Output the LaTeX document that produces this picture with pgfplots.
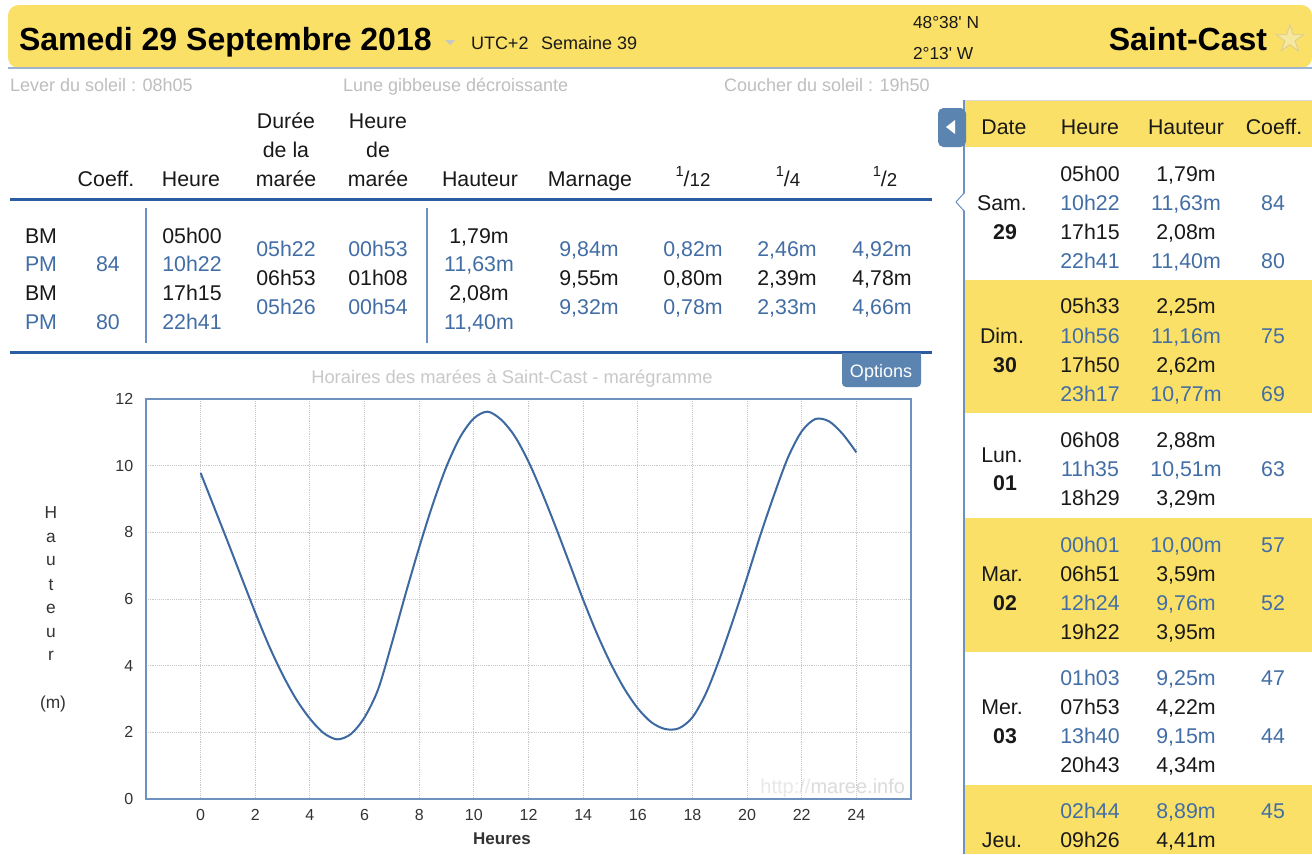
\documentclass[border=0pt]{standalone}
\usepackage{pgfplots}
\pgfplotsset{compat=1.18}
\usepackage{fontspec}
\setmainfont{Liberation Sans}
\newfontfamily\dejavu{DejaVu Sans}
\newcommand\fs[1]{\fontsize{#1}{#1}\selectfont}
\definecolor{ylw}{RGB}{250,224,102}
\definecolor{blu}{RGB}{66,110,165}
\definecolor{txt}{RGB}{25,25,25}
\definecolor{rulec}{RGB}{43,91,160}
\definecolor{vlinec}{RGB}{110,145,195}
\definecolor{lgray}{RGB}{190,190,190}
\definecolor{hline}{RGB}{160,180,205}
\definecolor{frame}{RGB}{110,145,190}
\definecolor{linec}{RGB}{61,105,160}
\definecolor{gridc}{RGB}{200,200,200}
\definecolor{tickc}{RGB}{51,51,51}
\definecolor{optc}{RGB}{91,132,177}
\definecolor{starc}{RGB}{247,232,160}
\definecolor{staro}{RGB}{222,205,135}
\begin{document}
\begin{tikzpicture}
\begin{scope}[x=0.75pt,y=-0.75pt,every node/.style={inner sep=0pt,outer sep=0pt}]
\path[use as bounding box] (0,0) rectangle (1312,854);
\fill[white] (0,0) rectangle (1312,854);
% header band
\fill[ylw,rounded corners=8] (8,5) rectangle (1312,68);
\draw[hline,line width=1.5pt] (8,68) -- (1312,68);
\node[anchor=base west,font=\fs{24}\bfseries,text=black] at (19,50) {Samedi 29 Septembre 2018};
\fill[gray!45] (445,40) -- (455,40) -- (450,45) -- cycle;
\node[anchor=base west,font=\fs{13.5},text=txt] at (471,49) {UTC+2};
\node[anchor=base west,font=\fs{13.5},text=txt] at (541,49) {Semaine 39};
\node[anchor=base west,font=\fs{13},text=txt] at (913,28) {48°38\textquotesingle\ N};
\node[anchor=base west,font=\fs{13},text=txt] at (913,59) {2°13\textquotesingle\ W};
\node[anchor=base east,font=\fs{24}\bfseries,text=black] at (1267,50) {Saint-Cast};
\node[anchor=center,font=\dejavu\fs{30},text=starc] at (1290,38) {★};
\node[anchor=center,font=\dejavu\fs{30},text=staro] at (1290,38) {☆};
% sun / moon line
\node[anchor=base west,font=\fs{13.5},text=lgray] at (10,91) {Lever du soleil : 08h05};
\node[anchor=base west,font=\fs{13.5},text=lgray] at (343,91) {Lune gibbeuse décroissante};
\node[anchor=base west,font=\fs{13.5},text=lgray] at (724,91) {Coucher du soleil : 19h50};
% main table header
\begin{scope}[every node/.append style={anchor=base,font=\fs{16},text=txt}]
\node at (106,186) {Coeff.};
\node at (191,186) {Heure};
\node at (286,128) {Durée};
\node at (286,157) {de la};
\node at (286,186) {marée};
\node at (378,128) {Heure};
\node at (378,157) {de};
\node at (378,186) {marée};
\node at (480,186) {Hauteur};
\node at (590,186) {Marnage};
\node at (693,186) {\raisebox{7pt}{\fs{11}1}/\fs{14}12};
\node at (788,186) {\raisebox{7pt}{\fs{11}1}/\fs{14}4};
\node at (885,186) {\raisebox{7pt}{\fs{11}1}/\fs{14}2};
\end{scope}
\draw[rulec,line width=2.25pt] (10,199) -- (932,199);
\draw[rulec,line width=2.25pt] (10,352) -- (932,352);
\draw[vlinec,line width=1.5pt] (146,208) -- (146,343);
\draw[vlinec,line width=1.5pt] (427,208) -- (427,343);
% main table rows
\begin{scope}[every node/.append style={anchor=base,font=\fs{16},text=txt}]
\node[anchor=base west] at (25,243) {BM};
\node[anchor=base west,text=blu] at (25,271) {PM};
\node[anchor=base west] at (25,300) {BM};
\node[anchor=base west,text=blu] at (25,329) {PM};
\node[text=blu] at (108,271) {84};
\node[text=blu] at (108,329) {80};
\node at (192,243) {05h00};
\node[text=blu] at (192,271) {10h22};
\node at (192,300) {17h15};
\node[text=blu] at (192,329) {22h41};
\node[text=blu] at (286,256) {05h22};
\node at (286,285) {06h53};
\node[text=blu] at (286,314) {05h26};
\node[text=blu] at (378,256) {00h53};
\node at (378,285) {01h08};
\node[text=blu] at (378,314) {00h54};
\node at (479,243) {1,79m};
\node[text=blu] at (479,271) {11,63m};
\node at (479,300) {2,08m};
\node[text=blu] at (479,329) {11,40m};
\node[text=blu] at (589,256) {9,84m};
\node at (589,285) {9,55m};
\node[text=blu] at (589,314) {9,32m};
\node[text=blu] at (693,256) {0,82m};
\node at (693,285) {0,80m};
\node[text=blu] at (693,314) {0,78m};
\node[text=blu] at (787,256) {2,46m};
\node at (787,285) {2,39m};
\node[text=blu] at (787,314) {2,33m};
\node[text=blu] at (882,256) {4,92m};
\node at (882,285) {4,78m};
\node[text=blu] at (882,314) {4,66m};
\end{scope}
% chart title and options
\node[anchor=base,font=\fs{13.75},text={rgb,255:red,200;green,200;blue,200}] at (512,383) {Horaires des marées à Saint-Cast - marégramme};
\fill[optc,rounded corners=3] (842,353) rectangle (921,387);
\fill[optc] (842,353) rectangle (921,360);
\node[anchor=base,font=\fs{13.5},text=white] at (881,377) {Options};
% y label
\begin{scope}[every node/.append style={anchor=base,font=\fs{13},text=tickc}]
\node at (51,518) {H};
\node at (51,542) {a};
\node at (51,565) {u};
\node at (51,590) {t};
\node at (51,613) {e};
\node at (51,637) {u};
\node at (51,660) {r};
\node at (53,708) {(m)};
\end{scope}
\node[anchor=base,font=\fs{12.75}\bfseries,text=tickc] at (502,844) {Heures};
\node[anchor=base east,font=\fs{15}] at (905,793) {\textcolor{gray!18}{http://}\textcolor{gray!28}{maree.info}};
% right panel
\fill[ylw] (963,100) rectangle (1312,147);
\fill[ylw] (963,280) rectangle (1312,413);
\fill[ylw] (963,518) rectangle (1312,652);
\fill[ylw] (963,785) rectangle (1312,854);
\draw[gray!30,line width=0.75pt] (963,100) -- (1312,100);
\draw[vlinec,line width=1.5pt] (964,100) -- (964,854);
\fill[white] (965,193) -- (956,202) -- (965,211) -- cycle;
\draw[vlinec,line width=0.75pt] (964,193) -- (956,202) -- (964,211);
\fill[optc,rounded corners=4] (938,108) rectangle (966,147);
\fill[white] (955,120) -- (955,134) -- (946,127) -- cycle;
\begin{scope}[every node/.append style={anchor=base,font=\fs{16},text=txt}]
\node at (1004,134) {Date};
\node at (1090,134) {Heure};
\node at (1186,134) {Hauteur};
\node at (1274,134) {Coeff.};
% Sam 29
\node at (1002,210) {Sam.};
\node[font=\fs{16}\bfseries] at (1005,239) {29};
\node at (1090,181) {05h00}; \node at (1186,181) {1,79m};
\node[text=blu] at (1090,210) {10h22}; \node[text=blu] at (1186,210) {11,63m}; \node[text=blu] at (1273,210) {84};
\node at (1090,239) {17h15}; \node at (1186,239) {2,08m};
\node[text=blu] at (1090,268) {22h41}; \node[text=blu] at (1186,268) {11,40m}; \node[text=blu] at (1273,268) {80};
% Dim 30
\node at (1002,343) {Dim.};
\node[font=\fs{16}\bfseries] at (1005,372) {30};
\node at (1090,313) {05h33}; \node at (1186,313) {2,25m};
\node[text=blu] at (1090,343) {10h56}; \node[text=blu] at (1186,343) {11,16m}; \node[text=blu] at (1273,343) {75};
\node at (1090,372) {17h50}; \node at (1186,372) {2,62m};
\node[text=blu] at (1090,401) {23h17}; \node[text=blu] at (1186,401) {10,77m}; \node[text=blu] at (1273,401) {69};
% Lun 01
\node at (1002,462) {Lun.};
\node[font=\fs{16}\bfseries] at (1005,490) {01};
\node at (1090,447) {06h08}; \node at (1186,447) {2,88m};
\node[text=blu] at (1090,476) {11h35}; \node[text=blu] at (1186,476) {10,51m}; \node[text=blu] at (1273,476) {63};
\node at (1090,505) {18h29}; \node at (1186,505) {3,29m};
% Mar 02
\node at (1002,581) {Mar.};
\node[font=\fs{16}\bfseries] at (1005,610) {02};
\node[text=blu] at (1090,552) {00h01}; \node[text=blu] at (1186,552) {10,00m}; \node[text=blu] at (1273,552) {57};
\node at (1090,581) {06h51}; \node at (1186,581) {3,59m};
\node[text=blu] at (1090,610) {12h24}; \node[text=blu] at (1186,610) {9,76m}; \node[text=blu] at (1273,610) {52};
\node at (1090,639) {19h22}; \node at (1186,639) {3,95m};
% Mer 03
\node at (1002,714) {Mer.};
\node[font=\fs{16}\bfseries] at (1005,743) {03};
\node[text=blu] at (1090,685) {01h03}; \node[text=blu] at (1186,685) {9,25m}; \node[text=blu] at (1273,685) {47};
\node at (1090,714) {07h53}; \node at (1186,714) {4,22m};
\node[text=blu] at (1090,743) {13h40}; \node[text=blu] at (1186,743) {9,15m}; \node[text=blu] at (1273,743) {44};
\node at (1090,772) {20h43}; \node at (1186,772) {4,34m};
% Jeu
\node at (1002,847) {Jeu.};
\node[text=blu] at (1090,818) {02h44}; \node[text=blu] at (1186,818) {8,89m}; \node[text=blu] at (1273,818) {45};
\node at (1090,847) {09h26}; \node at (1186,847) {4,41m};
\end{scope}
\end{scope}
\begin{axis}[
  at={(109.5pt,-599.25pt)}, anchor=south west,
  scale only axis, width=573.75pt, height=300pt,
  xmin=-2, xmax=26, ymin=0, ymax=12,
  xtick={0,2,...,24}, ytick={0,2,...,12},
  grid=major, major grid style={densely dotted,gridc,line width=0.75pt},
  axis line style={frame,line width=1.5pt},
  major tick length=0pt,
  tick label style={font=\fs{12},text=tickc},
  /pgf/number format/assume math mode=true,
  yticklabel style={xshift=-6pt},
  xticklabel style={yshift=-4pt},
]
\addplot[smooth,linec,line width=1.5pt] coordinates {
(0,9.78) (0.5,8.74) (1,7.70) (1.5,6.64) (2,5.59) (2.5,4.60) (3,3.73) (3.5,2.99)
(4,2.41) (4.5,1.98) (5,1.79) (5.5,1.95) (6,2.45) (6.5,3.30) (7,4.68) (7.5,6.15)
(8,7.55) (8.5,8.85) (9,9.98) (9.5,10.86) (10,11.42) (10.5,11.62) (11,11.38)
(11.5,10.88) (12,10.12) (12.5,9.18) (13,8.15) (13.5,7.07) (14,5.98) (14.5,4.97)
(15,4.08) (15.5,3.32) (16,2.72) (16.5,2.30) (17,2.10) (17.5,2.12) (18,2.45)
(18.5,3.18) (19,4.22) (19.5,5.40) (20,6.65) (20.5,7.95) (21,9.15) (21.5,10.25)
(22,11.03) (22.5,11.40) (23,11.33) (23.5,10.95) (24,10.40)
};
\end{axis}
\end{tikzpicture}
\end{document}
